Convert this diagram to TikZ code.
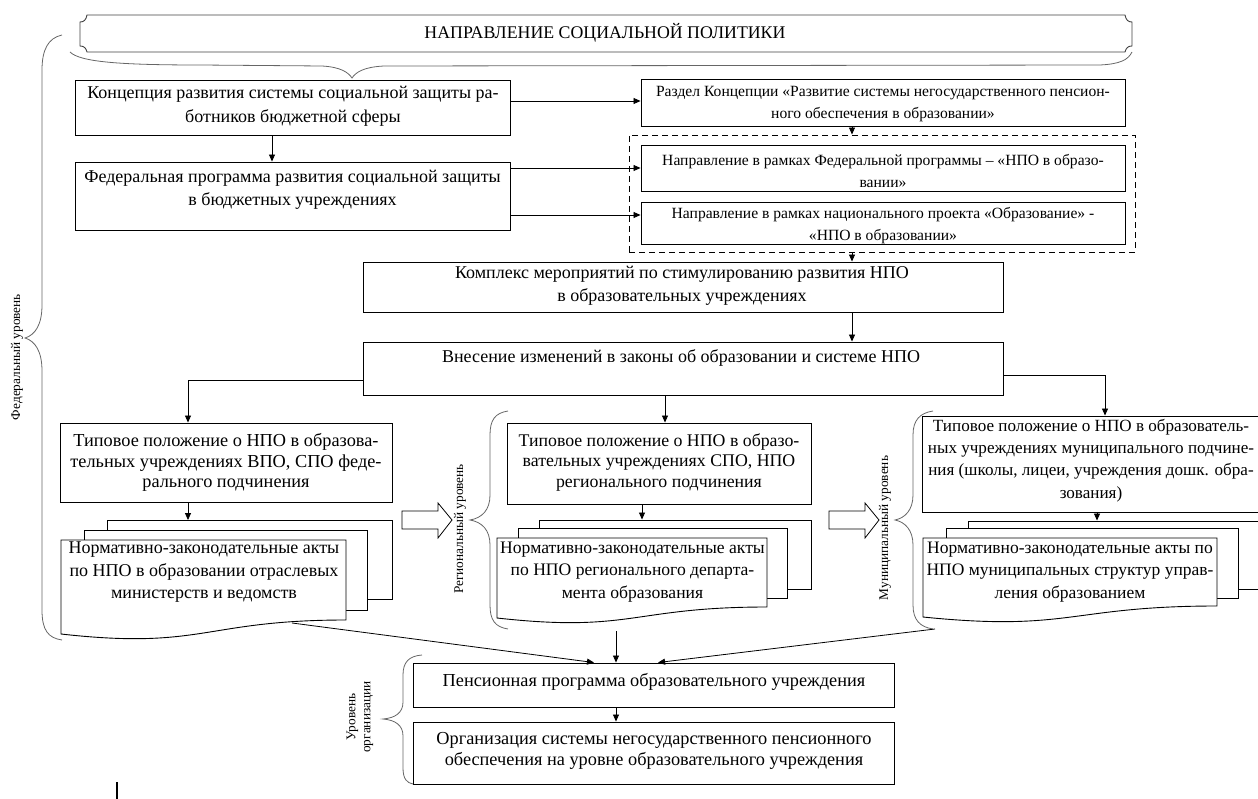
\documentclass[tikz,border=0pt]{standalone}
\usepackage{fontspec}
\setmainfont{Liberation Serif}
\usetikzlibrary{arrows.meta,calc}
\newcommand\fma{\fontsize{18.3}{20.7}\selectfont}
\newcommand\fmb{\fontsize{18}{23.5}\selectfont}
\newcommand\fmr{\fontsize{15.6}{22}\selectfont}
\newcommand\fml{\fontsize{13.3}{15}\selectfont}
\begin{document}
\begin{tikzpicture}[x=1pt,y=-1pt,
  box/.style={draw, line width=0.9pt, inner sep=0pt},
  txt/.style={inner sep=0pt, align=center, font=\fma},
  txtb/.style={inner sep=0pt, align=center, font=\fmb},
  txtr/.style={inner sep=0pt, align=center, font=\fmr},
  lvl/.style={inner sep=0pt, align=center, font=\fml, rotate=90},
  arr/.style={-{Triangle[length=7pt,width=6pt]}, line width=0.8pt},
  brace/.style={draw=black!60, line width=0.8pt},
  page/.style={draw, fill=white, line width=0.9pt, inner sep=0pt},
  blockarrow/.style={draw, fill=white, line width=0.8pt}]
\useasboundingbox (0,0) rectangle (1258,799);

% banner
\draw[black!75, line width=0.9pt] (87,15) -- (1125,15) .. controls (1126,20) and (1128,22) .. (1132,22)
  -- (1132,46) .. controls (1128,46) and (1126,48) .. (1125,52) -- (87,52)
  .. controls (86,48) and (84,46) .. (80,46) -- (80,22) .. controls (84,22) and (86,20) .. (87,15) -- cycle;
\node[txt, font=\fontsize{17.8}{20}\selectfont] (banner) at (605,33) {НАПРАВЛЕНИЕ СОЦИАЛЬНОЙ ПОЛИТИКИ};
% underbrace
\draw[brace] (70,52) .. controls (80,62) and (120,65) .. (200,65) -- (322,66)
  .. controls (340,67) and (348,72) .. (352,78) .. controls (356,72) and (364,67) .. (384,66)
  -- (1100,65) .. controls (1120,64) and (1128,60) .. (1132,52);

% federal brace
\draw[brace] (62,35) .. controls (48,38) and (42,50) .. (42,70) -- (42,305)
  .. controls (42,325) and (35,335) .. (25,338) .. controls (35,341) and (42,351) .. (42,371)
  -- (42,610) .. controls (42,630) and (48,638) .. (62,640);
\node[lvl] (lfed) at (17,357) {Федеральный уровень};

% top left boxes
\node[box, minimum width=435, minimum height=55] (b1) at (292.5,107.5) {};
\node[txtb] (b1t) at (293,106.5) {Концепция развития системы социальной защиты ра-\\ботников бюджетной сферы};
\node[box, minimum width=435, minimum height=68] (b2) at (292.5,196) {};
\node[txtb] (b2t) at (292.5,190) {Федеральная программа развития социальной защиты\\в бюджетных учреждениях};

% right boxes
\node[box, minimum width=484, minimum height=47] (r1) at (883,102.5) {};
\node[txtr] (r1t) at (883,104) {Раздел Концепции «Развитие системы негосударственного пенсион-\\ного обеспечения в образовании»};
\node[draw, line width=0.9pt, dash pattern=on 6pt off 4pt, minimum width=506, minimum height=117, inner sep=0pt] (dsh) at (882,193.5) {};
\node[box, minimum width=484, minimum height=46] (r2) at (883,168) {};
\node[txtr] (r2t) at (883,170.5) {Направление в рамках Федеральной программы – «НПО в образо-\\вании»};
\node[box, minimum width=484, minimum height=42] (r3) at (883,223) {};
\node[txtr] (r3t) at (883,226) {Направление в рамках национального проекта «Образование» -\\«НПО в образовании»};

% middle boxes
\node[box, minimum width=640, minimum height=50] (k) at (683,287) {};
\node[txtb] (kt) at (682,286) {Комплекс мероприятий по стимулированию развития НПО\\в образовательных учреждениях};
\node[box, minimum width=640, minimum height=53] (v) at (683,368.5) {};
\node[txtb] (vt) at (681,358) {Внесение изменений в законы об образовании и системе НПО};

% level boxes
\node[box, minimum width=332, minimum height=79] (f) at (226,462.5) {};
\node[txt] (ftx) at (226,462.5) {Типовое положение о НПО в образова-\\тельных учреждениях ВПО, СПО феде-\\рального подчинения};
\node[box, minimum width=304, minimum height=81] (g) at (659,463.5) {};
\node[txt, font=\fontsize{17.8}{20.7}\selectfont] (gtx) at (659,462.5) {Типовое положение о НПО в образо-\\вательных учреждениях СПО, НПО\\регионального подчинения};
\node[box, minimum width=342, minimum height=96] (m) at (1093,464) {};
\node[txt, font=\fontsize{17.1}{22.3}\selectfont] (mtx) at (1091,460.5) {Типовое положение о НПО в образователь-\\ных учреждениях муниципального подчине-\\ния (школы, лицеи, учреждения дошк. обра-\\зования)};

% federal documents
\node[page, minimum width=285, minimum height=79] (fb) at (249.5,560) {};
\node[page, minimum width=283, minimum height=80] (fm) at (225.5,570) {};
\draw[page] (61,540) -- (346,540) -- (346,620) .. controls (203.5,620) and (203.5,650) .. (61,634) -- cycle;
\node[txt, font=\fontsize{18}{22.5}\selectfont] (fdt) at (204,572.5) {Нормативно-законодательные акты\\по НПО в образовании отраслевых\\министерств и ведомств};
\coordinate (fw) at (292,623);

% regional documents
\node[page, minimum width=272, minimum height=69] (gb) at (675,554.5) {};
\node[page, minimum width=269, minimum height=70] (gm) at (652.5,563) {};
\draw[page] (497,538) -- (767,538) -- (767,607) .. controls (632,607) and (632,633) .. (497,618) -- cycle;
\node[txt, font=\fontsize{17.6}{22.2}\selectfont] (gdt) at (632.5,572) {Нормативно-законодательные акты\\по НПО регионального департа-\\мента образования};
\coordinate (rw) at (616,631);

% municipal documents
\node[page, minimum width=322, minimum height=68] (mb) at (1129,555) {};
\node[page, minimum width=292, minimum height=70] (mm) at (1092,563) {};
\draw[page] (923,538) -- (1217,538) -- (1217,606) .. controls (1070,606) and (1070,632) .. (923,617) -- cycle;
\node[txt, font=\fontsize{17.5}{22.2}\selectfont] (mdt) at (1070,572) {Нормативно-законодательные акты по\\НПО муниципальных структур управ-\\ления образованием};
\coordinate (mw) at (935,629);

% regional / municipal braces and labels
\draw[brace] (508,411) .. controls (495,413) and (490,420) .. (490,435) -- (490,495)
  .. controls (490,510) and (482,518) .. (470,520) .. controls (482,522) and (490,530) .. (490,545)
  -- (490,605) .. controls (490,620) and (495,627) .. (508,629);
\node[lvl] (lreg) at (460,529) {Региональный уровень};
\draw[brace] (933,411) .. controls (920,413) and (913,420) .. (913,435) -- (913,495)
  .. controls (913,510) and (905,518) .. (895,520) .. controls (905,522) and (913,530) .. (913,545)
  -- (913,605) .. controls (913,620) and (920,627) .. (933,629);
\node[lvl] (lmun) at (885,528) {Муниципальный уровень};

% block arrows
\draw[blockarrow] (402,511) -- (438,511) -- (438,503) -- (452,520) -- (438,538) -- (438,529) -- (402,529) -- cycle;
\draw[blockarrow] (829,511) -- (865,511) -- (865,503) -- (879,520) -- (865,538) -- (865,529) -- (829,529) -- cycle;

% organisation level
\node[box, minimum width=481, minimum height=44] (p) at (653.5,685) {};
\node[txt] (ptx) at (654,682) {Пенсионная программа образовательного учреждения};
\node[box, minimum width=481, minimum height=62] (o) at (653.5,753) {};
\node[txt] (otx) at (654,751) {Организация системы негосударственного пенсионного\\обеспечения на уровне образовательного учреждения};
\draw[brace] (422,655) .. controls (409,656) and (403,662) .. (403,675) -- (403,702)
  .. controls (403,713) and (395,718) .. (383,719) .. controls (395,720) and (403,725) .. (403,736)
  -- (403,768) .. controls (403,779) and (407,783) .. (413,784);
\node[lvl] (lorg) at (360,717) {Уровень\\организации};

% connectors
\draw[arr] ([xshift=-20.5pt]b1.south) -- ([xshift=-20.5pt]b2.north);
\draw[arr] (b1.east |- 0,101) -- (r1.west |- 0,101);
\draw[arr] (b2.east |- r2.west) -- (r2.west);
\draw[arr] (b2.east |- 0,215) -- (r3.west |- 0,215);
\draw[arr] (852,0 |- r1.south) -- (852,0 |- dsh.north);
\draw[arr] (852,0 |- dsh.south) -- (852,0 |- k.north);
\draw[arr] (852,0 |- k.south) -- (852,0 |- v.north);
\draw[arr] (v.west |- 0,380) -| (188,0 |- f.north);
\draw[arr] (665,0 |- v.south) -- (665,0 |- g.north);
\draw[arr] (v.east |- 0,375) -| (1105,0 |- m.north);
\draw[arr] (188,0 |- f.south) -- (188,0 |- fb.north);
\draw[arr] (642,0 |- g.south) -- (642,0 |- gb.north);
\draw[arr] (1097,0 |- m.south) -- (1097,0 |- mb.north);
\draw[arr] (fw) -- (594,0 |- p.north);
\draw[arr] (rw) -- (616,0 |- p.north);
\draw[arr] (mw) -- (658,0 |- p.north);
\draw[arr] (616,0 |- p.south) -- (616,0 |- o.north);

% stray cursor mark
\draw[line width=1.8pt] (117,782) -- (117,799);
\end{tikzpicture}
\end{document}
